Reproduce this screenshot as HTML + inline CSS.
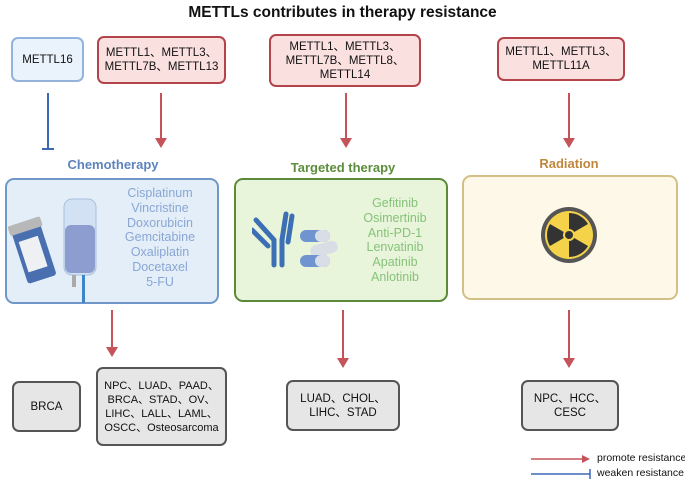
<!DOCTYPE html>
<html><head><meta charset="utf-8"><style>
body{margin:0;width:685px;height:482px;background:#fff;position:relative;font-family:"Liberation Sans","Noto Sans CJK SC",sans-serif;overflow:hidden}
.b{position:absolute;box-sizing:border-box;border-radius:7px;display:flex;align-items:center;justify-content:center;text-align:center;font-size:11.5px;line-height:14px;color:#111;white-space:nowrap}
.r{background:#fbe0e0;border:2px solid #b4444c}
.g{background:#e6e6e6;border:2px solid #555}
.t{position:absolute;font-weight:bold;font-size:13px;text-align:center}
.d{position:absolute;font-size:12.5px;line-height:14.8px;text-align:center}
</style></head><body>
<div class="t" style="left:0;width:685px;top:4px;font-size:15.5px;color:#111">METTLs contributes in therapy resistance</div>
<div class="b" style="left:11px;top:37px;width:73px;height:45px;background:#eaf2fb;border:2px solid #93b3dd">METTL16</div>
<div class="b r" style="left:97px;top:36px;width:129px;height:48px">METTL1、METTL3、<br>METTL7B、METTL13</div>
<div class="b r" style="left:269px;top:34px;width:152px;height:53px">METTL1、METTL3、<br>METTL7B、METTL8、<br>METTL14</div>
<div class="b r" style="left:497px;top:37px;width:128px;height:44px">METTL1、METTL3、<br>METTL11A</div>

<svg width="685" height="482" style="position:absolute;left:0;top:0">
<g stroke="#c5535a" stroke-width="2" fill="#c5535a">
<line x1="161" y1="93" x2="161" y2="140"/><polygon points="155,138 167,138 161,148" stroke="none"/>
<line x1="346" y1="93" x2="346" y2="140"/><polygon points="340,138 352,138 346,148" stroke="none"/>
<line x1="569" y1="93" x2="569" y2="140"/><polygon points="563,138 575,138 569,148" stroke="none"/>
<line x1="112" y1="310" x2="112" y2="349"/><polygon points="106,347 118,347 112,357" stroke="none"/>
<line x1="343" y1="310" x2="343" y2="360"/><polygon points="337,358 349,358 343,368" stroke="none"/>
<line x1="569" y1="310" x2="569" y2="360"/><polygon points="563,358 575,358 569,368" stroke="none"/>
<line x1="531" y1="459" x2="584" y2="459" stroke-width="1.5"/><polygon points="582,455 582,463 590,459" stroke="none"/>
</g>
<g stroke="#3d68b5" stroke-width="2">
<line x1="48" y1="93" x2="48" y2="149"/><line x1="42" y1="149" x2="54" y2="149"/>
<line x1="531" y1="474" x2="590" y2="474" stroke-width="1.5"/><line x1="590" y1="469" x2="590" y2="479" stroke-width="1.5"/>
</g>
</svg>

<div class="t" style="left:20px;width:186px;top:157px;color:#5d84bd">Chemotherapy</div>
<div class="t" style="left:250px;width:186px;top:160px;color:#5c8d3c">Targeted therapy</div>
<div class="t" style="left:476px;width:186px;top:156px;color:#c0873c">Radiation</div>

<div style="position:absolute;left:5px;top:178px;width:214px;height:126px;box-sizing:border-box;border:2px solid #7197c8;border-radius:9px;background:#e3eef9"></div>
<svg width="110" height="110" style="position:absolute;left:8px;top:195px">
<g transform="rotate(-18 28 55)"><rect x="10" y="30" width="30" height="55" rx="3" fill="#4a6fb0"/><rect x="8" y="24" width="34" height="10" rx="2" fill="#b8b8b8"/><rect x="14" y="42" width="20" height="32" fill="#eef0f4"/></g>
<rect x="56" y="4" width="32" height="76" rx="8" fill="#d2e2f4" stroke="#a8c0dc"/>
<rect x="57" y="30" width="30" height="48" rx="6" fill="#8e9dd0"/>
<rect x="64" y="80" width="4" height="12" fill="#aaa"/><rect x="74" y="80" width="3" height="28" fill="#3a86c8"/>
</svg>
<div class="d" style="left:110px;width:100px;top:186px;color:#8aa6d4">Cisplatinum<br>Vincristine<br>Doxorubicin<br>Gemcitabine<br>Oxaliplatin<br>Docetaxel<br>5-FU</div>

<div style="position:absolute;left:234px;top:178px;width:214px;height:124px;box-sizing:border-box;border:2px solid #5d8a3a;border-radius:9px;background:#e8f5da"></div>
<svg width="90" height="60" style="position:absolute;left:252px;top:210px">
<g stroke="#3d6fb5" stroke-width="5" fill="none" stroke-linecap="round"><path d="M4 10 L22 30 L22 55"/><path d="M34 4 L30 30 L30 55"/><path d="M0 20 L16 36"/><path d="M40 6 L36 32"/></g>
<rect x="48" y="20" width="30" height="12" rx="6" fill="#6f94d0"/><rect x="63" y="20" width="15" height="12" rx="6" fill="#d8dde6"/>
<rect x="58" y="33" width="28" height="12" rx="6" fill="#d8dde6" transform="rotate(-15 72 39)"/>
<rect x="48" y="45" width="30" height="12" rx="6" fill="#6f94d0"/><rect x="63" y="45" width="15" height="12" rx="6" fill="#d8dde6"/>
</svg>
<div class="d" style="left:345px;width:100px;top:196px;color:#86c27a">Gefitinib<br>Osimertinib<br>Anti-PD-1<br>Lenvatinib<br>Apatinib<br>Anlotinib</div>

<div style="position:absolute;left:462px;top:175px;width:216px;height:125px;box-sizing:border-box;border:2px solid #d3c089;border-radius:9px;background:#fdf8e7"></div>
<svg width="60" height="60" style="position:absolute;left:539px;top:205px">
<circle cx="30" cy="30" r="28" fill="#555"/><circle cx="30" cy="30" r="24" fill="#f4d24a"/>
<g fill="#333"><path d="M30 30 L30 8 A22 22 0 0 1 49 19 Z"/><path d="M30 30 L30 8 A22 22 0 0 1 49 19 Z" transform="rotate(120 30 30)"/><path d="M30 30 L30 8 A22 22 0 0 1 49 19 Z" transform="rotate(240 30 30)"/></g>
<circle cx="30" cy="30" r="6" fill="#f4d24a"/><circle cx="30" cy="30" r="4" fill="#333"/>
</svg>

<div class="b g" style="left:12px;top:381px;width:69px;height:51px">BRCA</div>
<div class="b g" style="left:96px;top:367px;width:131px;height:79px;font-size:11px">NPC、LUAD、PAAD、<br>BRCA、STAD、OV、<br>LIHC、LALL、LAML、<br>OSCC、Osteosarcoma</div>
<div class="b g" style="left:286px;top:380px;width:114px;height:51px">LUAD、CHOL、<br>LIHC、STAD</div>
<div class="b g" style="left:521px;top:380px;width:98px;height:51px">NPC、HCC、<br>CESC</div>

<div style="position:absolute;left:597px;top:452px;font-size:10.5px;color:#111;white-space:nowrap">promote resistance</div>
<div style="position:absolute;left:597px;top:467px;font-size:10.5px;color:#111;white-space:nowrap">weaken resistance</div>
</body></html>
